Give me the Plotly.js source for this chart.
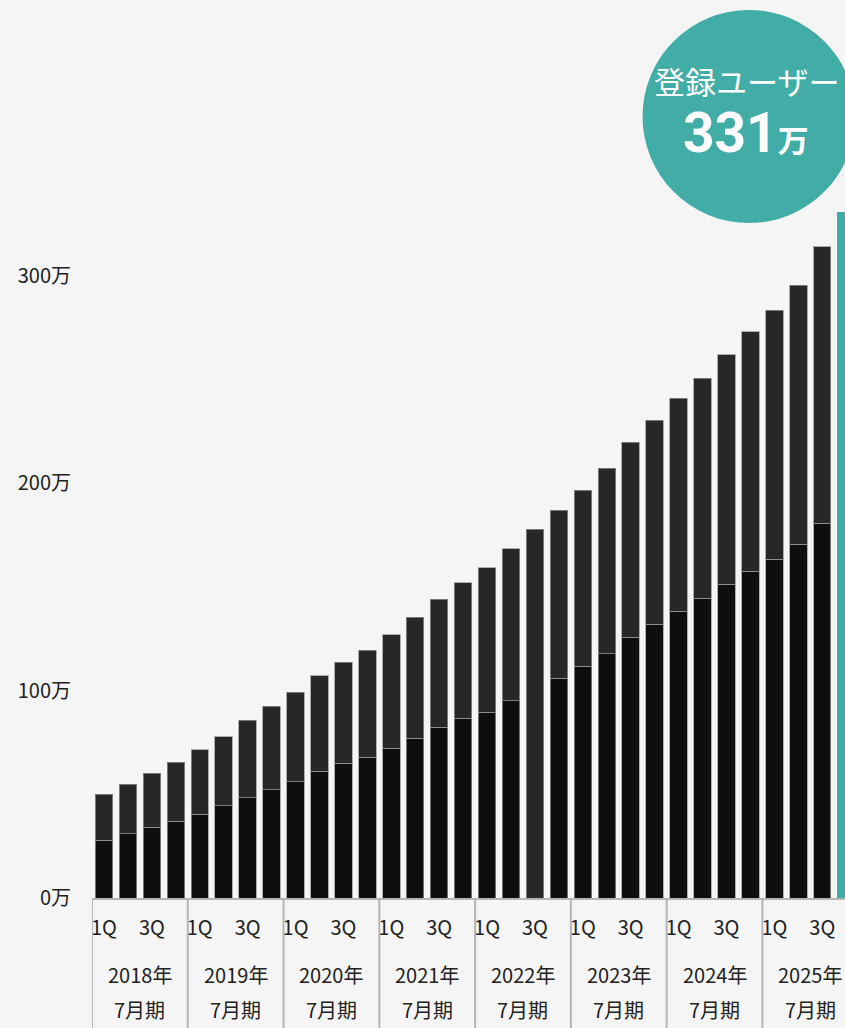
<!DOCTYPE html>
<html>
<head>
<meta charset="utf-8">
<script src="https://cdn.plot.ly/plotly-3.0.1.min.js"></script>
<style>
  html, body { margin: 0; padding: 0; background: #f5f5f5; }
  #chart { width: 845px; height: 1028px; }
</style>
</head>
<body>
<div id="chart"></div>
<script>
// ---- data (万人) ----
const fiscalYears = ['2018年', '2019年', '2020年', '2021年', '2022年', '2023年', '2024年', '2025年'];
const quarters = ['1Q', '2Q', '3Q', '4Q'];
const categories = [];
fiscalYears.forEach(y => quarters.forEach(q => categories.push(y + '7月期 ' + q)));

// lower (black) segment
const lowerSeg = [27.8, 30.9, 34.1, 37.0, 40.5, 44.4, 48.4, 52.2,
                  56.1, 61.1, 65.0, 67.9, 72.2, 77.0, 82.3, 86.7,
                  89.7, 95.2, 0, 106.0, 111.7, 117.8, 125.9, 132.0,
                  138.3, 144.6, 151.3, 157.7, 163.5, 170.6, 180.9, null];
// upper (dark grey) segment
const upperSeg = [22.2, 23.9, 26.2, 28.5, 30.9, 33.3, 37.3, 40.3,
                  43.1, 46.1, 48.7, 51.6, 54.8, 58.4, 61.8, 65.4,
                  69.6, 73.2, 178.0, 81.0, 85.0, 89.5, 93.9, 98.4,
                  102.7, 106.2, 110.7, 115.4, 120.1, 124.9, 133.3, null];
// latest quarter, highlighted
const latestTotal = [null, null, null, null, null, null, null, null,
                     null, null, null, null, null, null, null, null,
                     null, null, null, null, null, null, null, null,
                     null, null, null, null, null, null, null, 331];

const yTickVals = [0, 100, 200, 300];
const yTickText = ['0万', '100万', '200万', '300万'];
const xTickLabels = ['1Q', '3Q'];
const periodSuffix = '7月期';
const badgeTitle = '登録ユーザー';
const badgeValue = '331';
const badgeUnit = '万';

// ---- styles ----
const FONT = '"Noto Sans CJK JP", "Noto Sans", sans-serif';
const BG = '#f5f5f5';
const TEAL = '#41ada6';
const EDGE = 'rgba(150,150,150,0.75)';

const traces = [
  { type: 'bar', x: categories, y: lowerSeg, marker: { color: '#0e0e0e', line: { color: EDGE, width: 1 } }, hoverinfo: 'skip' },
  { type: 'bar', x: categories, y: upperSeg, marker: { color: '#272727', line: { color: EDGE, width: 1 } }, hoverinfo: 'skip' },
  { type: 'bar', x: categories, y: latestTotal, marker: { color: TEAL, line: { width: 0 } }, hoverinfo: 'skip' }
];

// x tick values: 1Q and 3Q of each year
const xTickVals = [], xTickText = [];
categories.forEach((c, i) => {
  if (i % 4 === 0) { xTickVals.push(c); xTickText.push(xTickLabels[0]); }
  if (i % 4 === 2) { xTickVals.push(c); xTickText.push(xTickLabels[1]); }
});

const shapes = [];
const annotations = [];
const bottomFrac = -130 / 898;
fiscalYears.forEach((y, k) => {
  shapes.push({ type: 'line', xref: 'x', yref: 'paper', x0: 4 * k - 0.5, x1: 4 * k - 0.5, y0: 0, y1: bottomFrac,
                line: { color: '#b4b4b4', width: 2 } });
  annotations.push({ xref: 'x', yref: 'paper', x: 4 * k + 1.5, y: 0, yanchor: 'middle', yshift: -76,
                     text: y, showarrow: false, font: { family: FONT, size: 20, color: '#222' } });
  annotations.push({ xref: 'x', yref: 'paper', x: 4 * k + 1.5, y: 0, yanchor: 'middle', yshift: -111,
                     text: periodSuffix, showarrow: false, font: { family: FONT, size: 20, color: '#222' } });
});

// badge circle (pixel-sized, anchored in paper space)
const plotLeft = 92, plotW = 845 - 92, plotH = 898;
const cx = (749 - plotLeft) / plotW, cy = (898 - 116.5) / plotH;
shapes.push({ type: 'circle', xref: 'paper', yref: 'paper', xsizemode: 'pixel', ysizemode: 'pixel',
              xanchor: cx, yanchor: cy, x0: -106.5, x1: 106.5, y0: -106.5, y1: 106.5,
              fillcolor: TEAL, line: { width: 0 }, layer: 'above' });
annotations.push({ xref: 'paper', yref: 'paper', x: (746 - plotLeft) / plotW, y: (898 - 81) / plotH,
                   xanchor: 'center', yanchor: 'middle', showarrow: false, text: badgeTitle,
                   font: { family: FONT, size: 31, color: '#ffffff' } });
annotations.push({ xref: 'paper', yref: 'paper', x: (746 - plotLeft) / plotW, y: (898 - 133) / plotH,
                   xanchor: 'center', yanchor: 'middle', showarrow: false,
                   text: '<b>' + badgeValue + '</b><b><span style="font-family:\'Noto Sans CJK JP\';font-size:31px">' + badgeUnit + '</span></b>',
                   font: { family: 'Roboto, "Noto Sans CJK JP", sans-serif', size: 55, color: '#ffffff' } });

const layout = {
  width: 845, height: 1028,
  margin: { l: 92, r: 0, t: 0, b: 130, pad: 0 },
  paper_bgcolor: BG, plot_bgcolor: BG,
  barmode: 'stack', bargap: 0.27,
  showlegend: false,
  font: { family: FONT, color: '#222' },
  xaxis: {
    type: 'category', range: [-0.5, 30.95], fixedrange: true,
    tickmode: 'array', tickvals: xTickVals, ticktext: xTickText,
    tickfont: { family: FONT, size: 20, color: '#222' },
    ticks: '', ticklabelstandoff: 11,
    showline: true, linecolor: '#b4b4b4', linewidth: 2, showgrid: false, zeroline: false
  },
  yaxis: {
    range: [0, 433.2], fixedrange: true,
    tickmode: 'array', tickvals: yTickVals, ticktext: yTickText,
    tickfont: { family: FONT, size: 20, color: '#222' },
    ticks: '', ticklabelstandoff: 20,
    showline: false, showgrid: false, zeroline: false
  },
  shapes: shapes,
  annotations: annotations
};

Plotly.newPlot('chart', traces, layout, { displayModeBar: false, staticPlot: true });
</script>
</body>
</html>
